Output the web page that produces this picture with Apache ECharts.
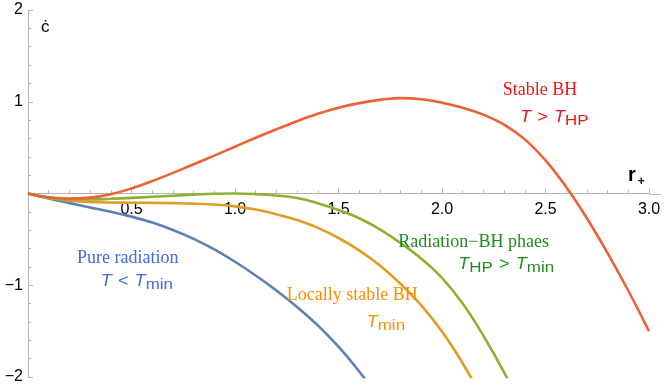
<!DOCTYPE html>
<html>
<head>
<meta charset="utf-8">
<script src="https://cdn.jsdelivr.net/npm/echarts@6/dist/echarts.min.js"></script>
<style>
  html, body { margin: 0; padding: 0; background: #fff; }
  #main { width: 664px; height: 388px; }
</style>
</head>
<body>
<div id="main"></div>
<script>
// r+ sample points (shared by all curves)
const radius = [0, 0.1, 0.2, 0.3, 0.4, 0.5, 0.6, 0.7, 0.8, 0.9, 1.0,
  1.1, 1.2, 1.3, 1.4, 1.5, 1.6, 1.7, 1.8, 1.9, 2.0,
  2.1, 2.2, 2.3, 2.4, 2.5, 2.6, 2.7, 2.8, 2.9, 3.0];

// c-dot values (curves leave the frame at -2)
const pureRadiation = [0, -0.055, -0.105, -0.152, -0.199, -0.252, -0.317, -0.397, -0.494, -0.609, -0.744,
  -0.894, -1.057, -1.237, -1.437, -1.67, -1.94, -2.24];
const locallyStable = [0, -0.05, -0.078, -0.092, -0.098, -0.1, -0.102, -0.105, -0.11, -0.12, -0.14,
  -0.175, -0.225, -0.29, -0.375, -0.485, -0.62, -0.785, -0.985, -1.22, -1.505,
  -1.85, -2.25];
const radiationBH = [0, -0.048, -0.065, -0.065, -0.058, -0.048, -0.036, -0.024, -0.012, -0.003, 0.0,
  -0.007, -0.022, -0.05, -0.105, -0.18, -0.27, -0.39, -0.54, -0.71, -0.92,
  -1.2, -1.55, -1.95, -2.4];
const stableBH = [0, -0.04, -0.055, -0.045, -0.008, 0.055, 0.135, 0.225, 0.318, 0.413, 0.51,
  0.607, 0.7, 0.788, 0.868, 0.935, 0.985, 1.02, 1.04, 1.028, 0.99,
  0.935, 0.86, 0.75, 0.59, 0.36, 0.07, -0.27, -0.65, -1.06, -1.5];

const xTicks = [0.5, 1.0, 1.5, 2.0, 2.5, 3.0];
const yTicks = [-2, -1, 1, 2];

const colors = {
  blue: '#5E81B5', orange: '#E19C24', green: '#8FB032', red: '#EB6235'
};

function pairs(vals) {
  return vals.map((v, i) => [radius[i], v]);
}

function curve(name, vals, color) {
  return {
    name: name,
    type: 'line',
    data: pairs(vals),
    smooth: 0.4,
    showSymbol: false,
    silent: true,
    lineStyle: { color: color, width: 2.6 }
  };
}

const axisGrey = '#b4b4b4';
const sans = 'Liberation Sans';
const serif = 'Liberation Serif';

function label(x, y, text, color, font, size) {
  return {
    type: 'text', x: x, y: y, z: 10,
    style: {
      text: text, fill: color, font: size + 'px "' + font + '"',
      verticalAlign: 'middle', align: 'left'
    }
  };
}

// italic T with subscripts, slightly stretched like the original typesetting
function tempLabel(x, y, text, color) {
  return {
    type: 'text', x: x, y: y, z: 10, scaleX: 1.13,
    style: {
      text: text, fill: color, fontFamily: sans,
      verticalAlign: 'middle', align: 'left',
      rich: {
        it: { fontSize: 16, fontStyle: 'italic', fontFamily: sans, fill: color, lineHeight: 18 },
        n: { fontSize: 16, fontFamily: sans, fill: color, lineHeight: 18, padding: [0, 1, 0, 1] },
        sub: { fontSize: 15, fontFamily: sans, fill: color, lineHeight: 14, padding: [7, 0, 0, 0] }
      }
    }
  };
}

const grid = { left: 28, right: 15, top: 10, bottom: 11 };
const W = 664, H = 388;
// pixel row of c-dot = 0 and column of r+ = 3 (end of the value range)
const zeroRow = grid.top + (H - grid.top - grid.bottom) / 2;
const endCol = W - grid.right;

const chart = echarts.init(document.getElementById('main'));
chart.setOption({
  animation: false,
  grid: grid,
  xAxis: {
    type: 'value', min: 0, max: 3, interval: 0.5,
    // sit the axis on c-dot = 0 (middle of the -2..2 frame)
    offset: -(H - grid.bottom - zeroRow),
    axisLine: { onZero: false, lineStyle: { color: axisGrey, width: 1 } },
    axisTick: { inside: true, length: 5, lineStyle: { color: axisGrey } },
    minorTick: { show: true, splitNumber: 5, length: 3, lineStyle: { color: axisGrey } },
    splitLine: { show: false },
    axisLabel: {
      margin: 8, color: '#000', fontSize: 16, fontFamily: sans,
      formatter: v => xTicks.includes(v) ? v.toFixed(1) : ''
    }
  },
  yAxis: {
    type: 'value', min: -2, max: 2, interval: 1,
    axisLine: { show: true, onZero: false, lineStyle: { color: axisGrey, width: 1 } },
    axisTick: { show: true, inside: true, length: 5, lineStyle: { color: axisGrey } },
    minorTick: { show: true, splitNumber: 5, length: 3, lineStyle: { color: axisGrey } },
    splitLine: { show: false },
    axisLabel: {
      margin: 5, color: '#000', fontSize: 16, fontFamily: sans,
      formatter: v => yTicks.includes(v) ? (v < 0 ? '\u2212' + Math.abs(v) : String(v)) : ''
    }
  },
  series: [
    curve('Pure radiation', pureRadiation, colors.blue),
    curve('Locally stable BH', locallyStable, colors.orange),
    curve('Radiation-BH phase', radiationBH, colors.green),
    curve('Stable BH', stableBH, colors.red)
  ],
  graphic: [
    // the original axis line runs a little past 3.0
    {
      type: 'line', z: 5, silent: true,
      shape: { x1: endCol, y1: Math.round(zeroRow) + 0.5, x2: endCol + 12, y2: Math.round(zeroRow) + 0.5 },
      style: { stroke: axisGrey, lineWidth: 1 }
    },
    label(41, 27, 'ċ', '#000', sans, 17),
    {
      type: 'text', x: 628, y: 175, z: 10,
      style: {
        text: '{r|r}{s|+}', verticalAlign: 'middle', align: 'left',
        rich: {
          r: { fontSize: 20, fontWeight: 'bold', fontFamily: sans, fill: '#000', lineHeight: 22 },
          s: { fontSize: 12, fontWeight: 'bold', fontFamily: sans, fill: '#000', lineHeight: 14, padding: [14, 0, 0, 2] }
        }
      }
    },
    label(77, 258, 'Pure radiation', '#4169E1', serif, 18),
    tempLabel(100.7, 281.7, '{it|T}{n| < }{it|T}{sub|min}', '#4169E1'),
    label(286.7, 295.7, 'Locally stable BH', '#FF8C00', serif, 18),
    tempLabel(366.7, 322.7, '{it|T}{sub|min}', '#FF8C00'),
    label(398.3, 242.3, 'Radiation\u2212BH phaes', '#1E8C1E', serif, 18),
    tempLabel(458.3, 264.4, '{it|T}{sub|HP}{n| > }{it|T}{sub|min}', '#1E8C1E'),
    label(502.7, 90, 'Stable BH', '#F01414', serif, 18),
    tempLabel(520, 117.7, '{it|T}{n| > }{it|T}{sub|HP}', '#F01414')
  ]
});
</script>
</body>
</html>
